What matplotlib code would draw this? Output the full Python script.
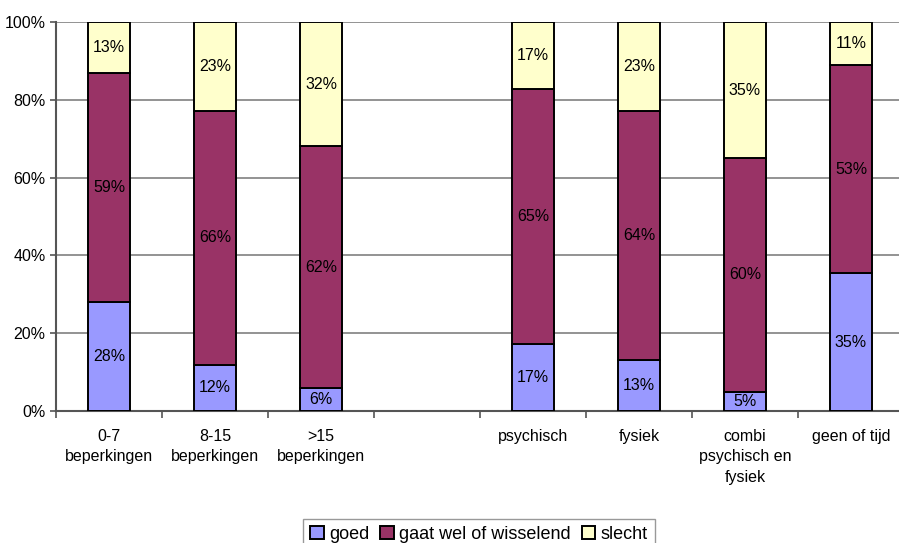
import matplotlib.pyplot as plt
from matplotlib.ticker import FixedLocator, NullFormatter

plt.rcParams['font.family'] = ['Liberation Sans', 'DejaVu Sans']

categories = ['0-7\nbeperkingen', '8-15\nbeperkingen', '>15\nbeperkingen', '',
              'psychisch', 'fysiek', 'combi\npsychisch en\nfysiek', 'geen of tijd']
goed = [28, 12, 6, None, 17, 13, 5, 35]
gaat_wel = [59, 66, 62, None, 65, 64, 60, 53]
slecht = [13, 23, 32, None, 17, 23, 35, 11]

series = [('goed', goed, '#9999FF'),
          ('gaat wel of wisselend', gaat_wel, '#993366'),
          ('slecht', slecht, '#FFFFCC')]

fig = plt.figure(figsize=(8.99, 5.43), dpi=100)
ax = fig.add_axes([56 / 899, 132 / 543, 848 / 899, 389 / 543])

idx = [i for i, v in enumerate(goed) if v is not None]
# 100% stacked: each column scaled by its own total
totals = [goed[i] + gaat_wel[i] + slecht[i] for i in idx]
bottom = [0.0] * len(idx)
for name, vals, col in series:
    v = [vals[i] for i in idx]
    h = [a / t * 100 for a, t in zip(v, totals)]
    ax.bar(idx, h, width=0.4, bottom=bottom, color=col, edgecolor='black',
           linewidth=1.4, label=name, zorder=3)
    for x, b, hh, lab in zip(idx, bottom, h, v):
        ax.text(x, b + hh / 2, f'{lab}%', ha='center', va='center', fontsize=11.5, zorder=4)
    bottom = [b + hh for b, hh in zip(bottom, h)]

ax.set_xlim(-0.5, 7.5)
ax.set_ylim(0, 100)
ax.set_yticks([0, 20, 40, 60, 80, 100])
ax.set_yticklabels([f'{t}%' for t in range(0, 101, 20)], fontsize=11.5)
ax.yaxis.grid(True, color='#808080', linewidth=1.2, zorder=0)

ax.set_xticks(range(8))
ax.set_xticklabels(categories, fontsize=11.5, va='top', linespacing=1.45)
ax.tick_params(axis='x', which='major', length=0, pad=13)
ax.xaxis.set_minor_locator(FixedLocator([i - 0.5 for i in range(9)]))
ax.xaxis.set_minor_formatter(NullFormatter())
ax.tick_params(axis='x', which='minor', length=5, color='#555555', width=1.2)
ax.tick_params(axis='y', length=4, color='#555555', width=1.2)

for s in ['top', 'right']:
    ax.spines[s].set_visible(False)
for s in ['left', 'bottom']:
    ax.spines[s].set_color('#555555')
    ax.spines[s].set_linewidth(1.5)

fig.legend(loc='lower center', bbox_to_anchor=(479 / 899, -0.03), ncol=3, fontsize=13,
           frameon=True, fancybox=False, edgecolor='#808080', handlelength=0.75,
           handleheight=0.75, handletextpad=0.3, columnspacing=0.6, borderpad=0.4)

fig.savefig('out.png', dpi=100)
